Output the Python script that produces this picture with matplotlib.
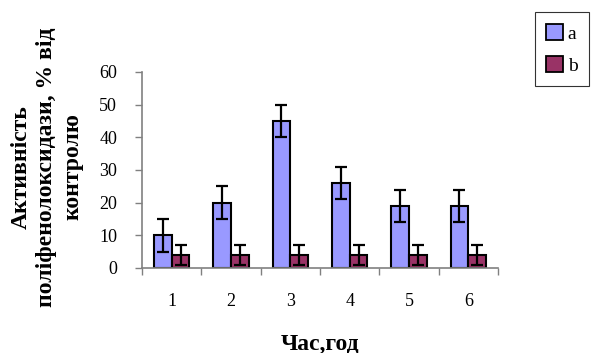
import matplotlib
matplotlib.use("Agg")
import matplotlib.pyplot as plt
import numpy as np

categories = ["1", "2", "3", "4", "5", "6"]
series_a = [10, 20, 45, 26, 19, 19]
err_a = [5, 5, 5, 5, 5, 5]
series_b = [4, 4, 4, 4, 4, 4]
err_b = [3, 3, 3, 3, 3, 3]
yticks = [0, 10, 20, 30, 40, 50, 60]

plt.rcParams['font.family'] = ['Liberation Serif', 'DejaVu Serif']

fig = plt.figure(figsize=(5.92, 3.53), dpi=100)
ax = fig.add_axes([142/592, 1-268/353, (498-142)/592, (268-72)/353])

x = np.arange(len(categories))
w = 0.3
ekw = dict(elinewidth=1.6, capthick=1.6, ecolor='black')
ax.bar(x - w/2, series_a, w, color='#9999FF', edgecolor='black', linewidth=1.5,
       yerr=err_a, capsize=4.5, error_kw=ekw, label='a')
ax.bar(x + w/2, series_b, w, color='#993366', edgecolor='black', linewidth=1.5,
       yerr=err_b, capsize=4.5, error_kw=ekw, label='b')

ax.set_xlim(-0.5, len(categories) - 0.5)
ax.set_ylim(0, 60)
ax.set_yticks(yticks)
ax.set_yticklabels([str(t) for t in yticks], fontsize=13)
ax.set_xticks(x)
ax.set_xticklabels(categories, fontsize=13)
ax.set_xticks(np.arange(-0.5, len(categories), 1), minor=True)
ax.tick_params(axis='x', which='major', length=0, pad=18)
ax.tick_params(axis='x', which='minor', length=5, color='#808080', width=1)
ax.tick_params(axis='y', length=5, color='#808080', width=1, pad=13)

for s in ['top', 'right']:
    ax.spines[s].set_visible(False)
for s in ['left', 'bottom']:
    ax.spines[s].set_color('#808080')
    ax.spines[s].set_linewidth(1.2)

fig.text(320/592, 1-344/353, "Час,год", ha='center', va='center',
         fontsize=17, fontweight='bold')
fig.text(47/592, 1-167/353, "Активність\nполіфенолоксидази, % від\nконтролю",
         rotation=90, ha='center', va='center', fontsize=17, fontweight='bold',
         multialignment='center', linespacing=1.3)

leg = fig.legend(loc='upper right', bbox_to_anchor=(0.995, 0.965), fontsize=14,
                 frameon=True, fancybox=False, edgecolor='black',
                 handlelength=0.85, handleheight=0.85, handletextpad=0.25,
                 labelspacing=0.7, borderpad=0.6, borderaxespad=0)
leg.get_frame().set_linewidth(0.8)
leg._legend_box.align = "left"
for t in leg.get_texts():
    pass
fig.canvas.draw()
# widen the frame a bit on the left, as in the reference
leg.set_bbox_to_anchor((0.995, 0.965))
for h in leg.legend_handles:
    h.set_linewidth(1.3)

fig.savefig("out.png", dpi=100)
